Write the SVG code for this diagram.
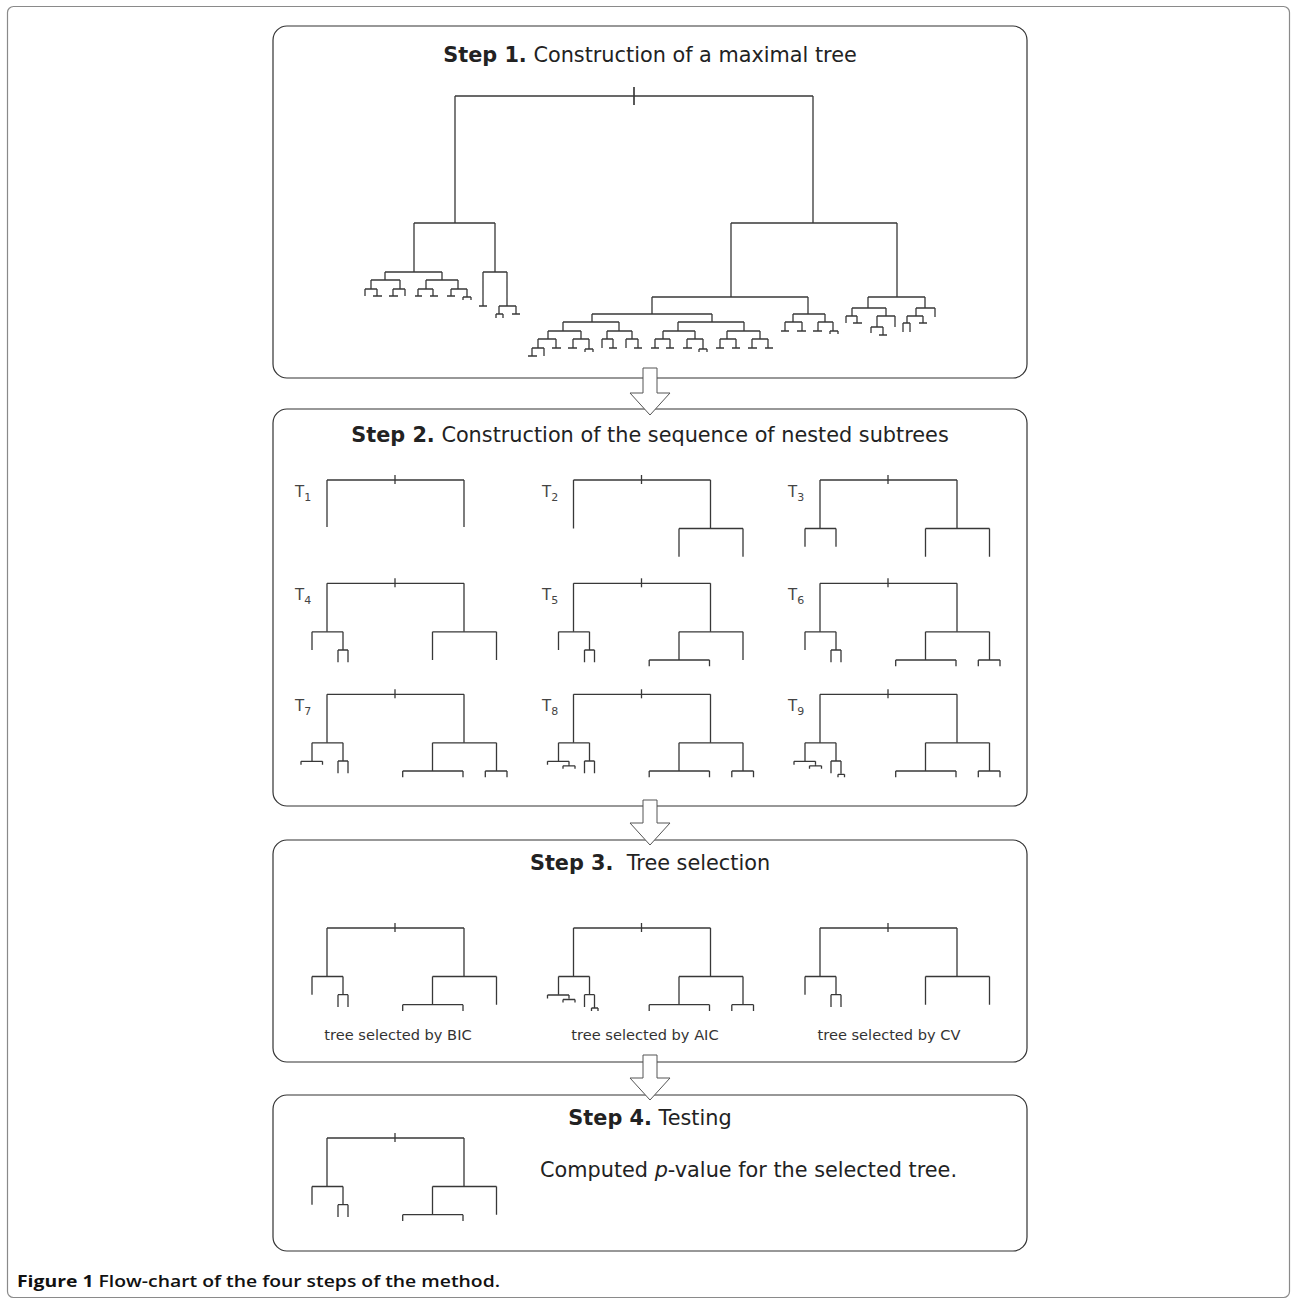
<svg xmlns="http://www.w3.org/2000/svg" width="1294" height="1302" viewBox="0 0 1294 1302">
<style>
.frame{fill:none;stroke:#8a8a8a;stroke-width:1.2}
.box{fill:#fff;stroke:#333;stroke-width:1.2}
.tr{fill:none;stroke:#383838;stroke-width:1.3}
.tick{fill:none;stroke:#222;stroke-width:1.5}
.arrow{fill:#fff;stroke:#555;stroke-width:1}
.title{font-family:"DejaVu Sans",sans-serif;font-size:20.8px;fill:#222;text-anchor:middle}
.b{font-weight:bold}
.tl{font-family:"DejaVu Sans",sans-serif;font-size:15px;fill:#444}
.sub{font-size:11px}
.cap{font-family:"DejaVu Sans",sans-serif;font-size:14.6px;fill:#333;text-anchor:middle}
.body{font-family:"DejaVu Sans",sans-serif;font-size:20.8px;fill:#222}
.fig{font-family:"Open Sans","Liberation Sans",sans-serif;font-size:16px;fill:#111}
</style>
<defs>
<path id="pRoot1" d="M0,0H137M0,0V47M137,0V47"/>
<path id="pRoot" d="M0,0H137M0,0V48.5M137,0V48.5"/>
<path id="pR" d="M105.5,48.5H169.5M105.5,48.5V76.7M169.5,48.5V76.7"/>
<path id="pL" d="M-15,48.5H16M-15,48.5V66.7M16,48.5V66.7"/>
<path id="pLR" d="M11,66.7H21M11,66.7V79M21,66.7V79"/>
<path id="pRL" d="M75.7,76.7H136M75.7,76.7V83M136,76.7V83"/>
<path id="pRR" d="M158.3,76.7H180M158.3,76.7V83M180,76.7V83"/>
<path id="pLL" d="M-26,67H-4.5M-26,67V70.5M-4.5,67V70.5"/>
<path id="pLLR" d="M-4.5,70.5V71.5M-10.5,71.5H1.5M-10.5,71.5V74.5M1.5,71.5V74.5"/>
<path id="pLRR" d="M21,79V80M18,80H24.5M18,80V83M24.5,80V83"/>
<path id="pTick" d="M68,-5V4"/>
<g id="T1" class="tr"><use href="#pRoot1"/><use href="#pTick"/></g>
<g id="T2" class="tr"><use href="#pRoot"/><use href="#pTick"/><use href="#pR"/></g>
<g id="T3"><use href="#T2"/><use href="#pL" class="tr"/></g>
<g id="T4"><use href="#T3"/><use href="#pLR" class="tr"/></g>
<g id="T5"><use href="#T4"/><use href="#pRL" class="tr"/></g>
<g id="T6"><use href="#T5"/><use href="#pRR" class="tr"/></g>
<g id="T7"><use href="#T6"/><use href="#pLL" class="tr"/></g>
<g id="T8"><use href="#T7"/><use href="#pLLR" class="tr"/></g>
<g id="T9"><use href="#T8"/><use href="#pLRR" class="tr"/></g>
</defs>
<rect width="1294" height="1302" fill="#fff"/>
<rect class="frame" x="7.5" y="6.5" width="1282" height="1291" rx="6"/>

<g id="step1">
<rect class="box" x="273" y="26" width="754" height="352" rx="14"/>
<text class="title" x="650" y="62"><tspan class="b">Step 1.</tspan> Construction of a maximal tree</text>
<path class="tick" d="M634,87V105"/>
<path class="tr" d="M455,96H813M455,96V223M414,223H495M813,96V223M731,223H897
M414,223V272M385,272H442
M385,272V280M371,280H400
M371,280V289M365,289H377M365,289V296M377,289V296M373,296H382
M400,280V289M393,289H405M393,289V296M389,296H398M405,289V296
M442,272V280M426,280H458
M426,280V289M418,289H433M418,289V296M415,296H422M433,289V296M430,296H438
M458,280V289M451,289H467M451,289V296M447,296H455M467,289V297M463,297H471M463,297V300M471,297V300
M495,223V272M483,272H507
M483,272V306M479,306H487
M507,272V306M499,306H516
M499,306V314M496,314H503M496,314V318M503,314V318
M516,306V314M512,314H520
M731,223V297M652,297H808
M652,297V314M592,314H712
M592,314V322M563,322H619
M563,322V331M548,331H581
M548,331V339M538,339H556
M538,339V348M532,348H544M532,348V356M528,356H537M544,348V356
M556,339V348M552,348H561
M581,331V339M573,339H589
M573,339V348M568,348H577
M589,339V349M585,349H593M585,349V352M593,349V352
M619,322V331M607,331H632
M607,331V339M602,339H613M602,339V348M613,339V348M609,348H617
M632,331V339M626,339H638M626,339V348M638,339V348M634,348H642
M712,314V322M678,322H744
M678,322V331M663,331H695
M663,331V339M655,339H670M655,339V348M651,348H659M670,339V348M666,348H674
M695,331V339M687,339H703M687,339V348M683,348H692M703,339V349M699,349H707M699,349V352M707,349V352
M744,322V331M727,331H760
M727,331V339M720,339H736M720,339V348M716,348H724M736,339V348M732,348H740
M760,331V339M752,339H768M752,339V348M748,348H757M768,339V348M765,348H773
M808,297V314M793,314H825
M793,314V322M785,322H802M785,322V331M781,331H789M802,322V331M797,331H806
M825,314V322M818,322H833M818,322V331M813,331H822M833,322V331M830,331H838M830,331V334M838,331V334
M897,223V297M868,297H925
M868,297V308M852,308H886
M852,308V316M846,316H857M846,316V323M857,316V323M853,323H862
M886,308V316M877,316H895
M877,316V327M871,327H883M871,327V333M883,327V335M879,335H887
M895,316V327
M925,297V308M916,308H935
M916,308V316M907,316H923
M907,316V323M903,323H910M903,323V332M910,323V332
M923,316V323M919,323H927
M935,308V317"/>
</g>

<g id="step2">
<rect class="box" x="273" y="409" width="754" height="397" rx="14"/>
<text class="title" x="650" y="442"><tspan class="b">Step 2.</tspan> Construction of the sequence of nested subtrees</text>
<use href="#T1" x="327" y="480"/>
<use href="#T2" x="573.5" y="480"/>
<use href="#T3" x="820" y="480"/>
<use href="#T4" x="327" y="583.3"/>
<use href="#T5" x="573.5" y="583.3"/>
<use href="#T6" x="820" y="583.3"/>
<use href="#T7" x="327" y="694.3"/>
<use href="#T8" x="573.5" y="694.3"/>
<use href="#T9" x="820" y="694.3"/>
<text class="tl" x="295" y="497">T<tspan class="sub" dy="4">1</tspan></text>
<text class="tl" x="542" y="497">T<tspan class="sub" dy="4">2</tspan></text>
<text class="tl" x="788" y="497">T<tspan class="sub" dy="4">3</tspan></text>
<text class="tl" x="295" y="600">T<tspan class="sub" dy="4">4</tspan></text>
<text class="tl" x="542" y="600">T<tspan class="sub" dy="4">5</tspan></text>
<text class="tl" x="788" y="600">T<tspan class="sub" dy="4">6</tspan></text>
<text class="tl" x="295" y="711">T<tspan class="sub" dy="4">7</tspan></text>
<text class="tl" x="542" y="711">T<tspan class="sub" dy="4">8</tspan></text>
<text class="tl" x="788" y="711">T<tspan class="sub" dy="4">9</tspan></text>
</g>

<g id="step3">
<rect class="box" x="273" y="840" width="754" height="222" rx="14"/>
<text class="title" x="650" y="870" xml:space="preserve"><tspan class="b">Step 3.</tspan>  Tree selection</text>
<use href="#T5" x="327" y="928"/>
<use href="#T9" x="573.5" y="928"/>
<use href="#T4" x="820" y="928"/>
<text class="cap" x="398" y="1040">tree selected by BIC</text>
<text class="cap" x="645" y="1040">tree selected by AIC</text>
<text class="cap" x="889" y="1040">tree selected by CV</text>
</g>

<g id="step4">
<rect class="box" x="273" y="1095" width="754" height="156" rx="14"/>
<text class="title" x="650" y="1125"><tspan class="b">Step 4.</tspan> Testing</text>
<use href="#T5" x="327" y="1138"/>
<text class="body" x="540" y="1177">Computed <tspan font-style="italic">p</tspan>-value for the selected tree.</text>
</g>

<g id="connectors">
<polygon class="arrow" points="643,368 657,368 657,393 670,393 650,415 630,393 643,393"/>
<polygon class="arrow" points="643,800 657,800 657,823 670,823 650,845 630,823 643,823"/>
<polygon class="arrow" points="643,1055 657,1055 657,1078 670,1078 650,1100 630,1078 643,1078"/>
</g>

<text class="fig" x="17" y="1287" textLength="483" lengthAdjust="spacingAndGlyphs"><tspan font-weight="700">Figure 1</tspan><tspan font-weight="600"> Flow-chart of the four steps of the method.</tspan></text>
</svg>
